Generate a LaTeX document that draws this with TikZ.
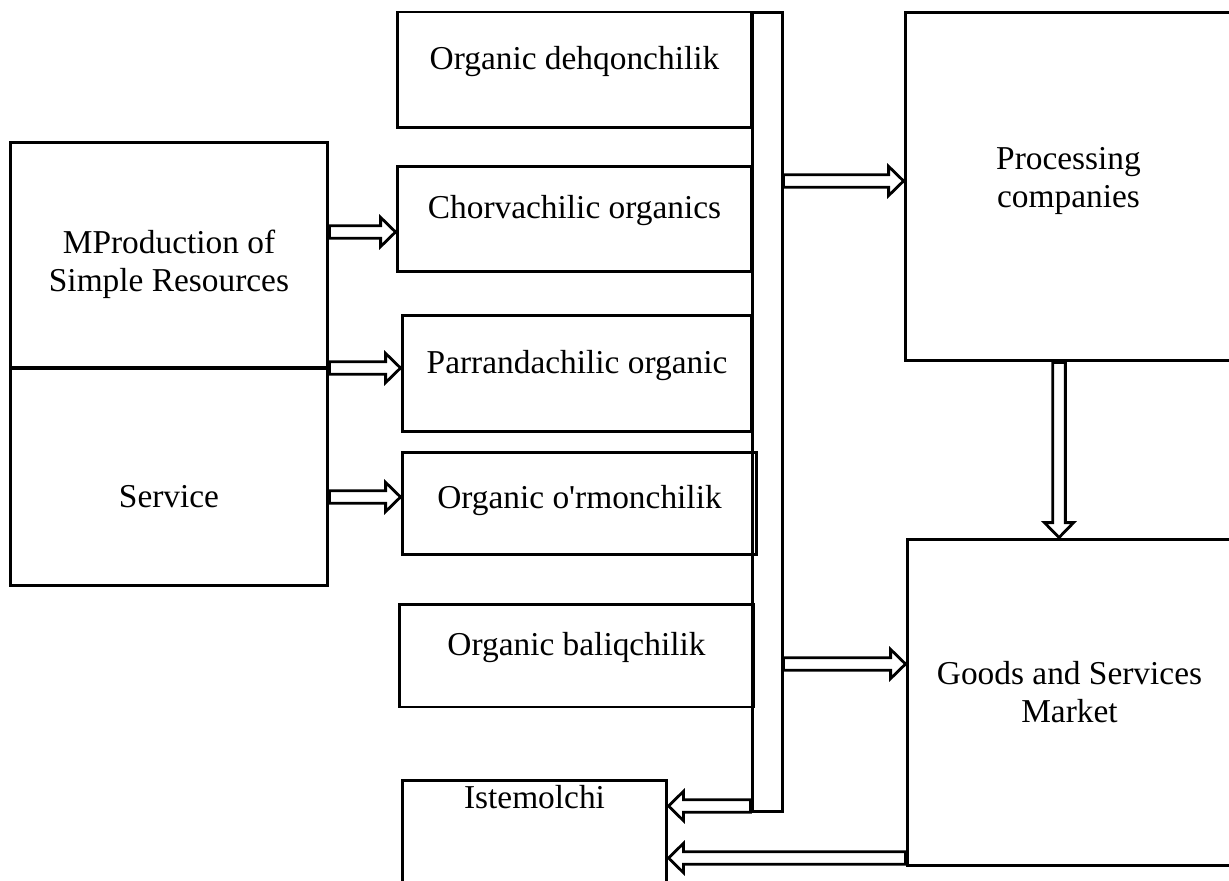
\documentclass[tikz,border=0pt]{standalone}
\usepackage{fontspec}
\setmainfont{Liberation Serif}
\usetikzlibrary{calc}
\tikzset{
    block/.style = {draw, rectangle, line width=1.7pt, inner sep=0pt,
        align=center, font=\fontsize{19}{22}\selectfont},
    textmid/.style = {text height=8pt, text depth=8pt},
    fat/.style = {draw, line width=1.6pt, fill=white, line join=miter}
}
\newcommand\fatarrow[2]{%
    \path let \p1=($#2-#1$) in \pgfextra{%
        \pgfmathsetmacro\fatl{veclen(\x1,\y1)}\xdef\fatlen{\fatl}%
        \pgfmathsetmacro\fata{atan2(\y1,\x1)}\xdef\fatang{\fata}};
    \draw[fat, shift={#1}, rotate=\fatang] (0,-3.6pt) -- ({\fatlen pt-8.5pt},-3.6pt)
        -- ({\fatlen pt-8.5pt},-8.3pt) -- (\fatlen pt,0pt) -- ({\fatlen pt-8.5pt},8.3pt)
        -- ({\fatlen pt-8.5pt},3.6pt) -- (0pt,3.6pt) -- cycle;
}

\begin{document}
\begin{tikzpicture}[x=0.02cm, y=-0.02cm]
    \useasboundingbox (0,0) rectangle (1229,881);
    \clip (0,0) rectangle (1229,881);
    \node [block, minimum width=0.6cm, minimum height=16cm] (bar) at (767,412) {};
    \node [block, textmid, minimum width=7.1cm, minimum height=2.32cm] (dehq) at (574.5,70) {Organic dehqonchilik};
    \node [block, textmid, minimum width=7.1cm, minimum height=2.12cm] (chorv) at (574.5,219) {Chorvachilic organics};
    \node [block, textmid, minimum width=7.0cm, minimum height=2.34cm] (parr) at (577,373.5) {Parrandachilic organic};
    \node [block, text height=11pt, text depth=5.3pt, minimum width=7.1cm, minimum height=2.04cm] (ormon) at (579.5,503.5) {Organic o\textquotesingle rmonchilik};
    \node [block, textmid, minimum width=7.1cm, minimum height=2.06cm] (baliq) at (576.5,655.5) {Organic baliqchilik};
    \node [block, text height=4pt, text depth=40pt, minimum width=5.3cm, minimum height=2.4cm] (istem) at (534.5,840) {Istemolchi};
    \node [block, text height=46pt, text depth=4pt, minimum width=6.36cm, minimum height=4.52cm] (prod) at (169,255) {MProduction of\\Simple Resources};
    \node [block, text height=40pt, text depth=5pt, minimum width=6.36cm, minimum height=4.36cm] (serv) at (169,477) {Service};
    \node [block, text height=30pt, text depth=5.6pt, minimum width=6.54cm, minimum height=6.98cm] (proc) at (1068.5,186.5) {Processing\\companies};
    \node [block, text height=30pt, text depth=6.8pt, minimum width=6.5cm, minimum height=6.54cm] (goods) at (1069.5,702.5) {Goods and Services\\Market};
    \fatarrow{(prod.east |- 0,232)}{(chorv.west |- 0,232)}
    \fatarrow{(prod.east |- 0,368)}{(parr.west |- 0,368)}
    \fatarrow{(serv.east |- 0,497)}{(ormon.west |- 0,497)}
    \fatarrow{(bar.east |- 0,181)}{(proc.west |- 0,181)}
    \fatarrow{(bar.east |- 0,664)}{(goods.west |- 0,664)}
    \fatarrow{(proc.south -| 1059,0)}{(goods.north -| 1059,0)}
    \fatarrow{(bar.west |- 0,806)}{(istem.east |- 0,806)}
    \fatarrow{(goods.west |- 0,858)}{(istem.east |- 0,858)}
\end{tikzpicture}
\end{document}
